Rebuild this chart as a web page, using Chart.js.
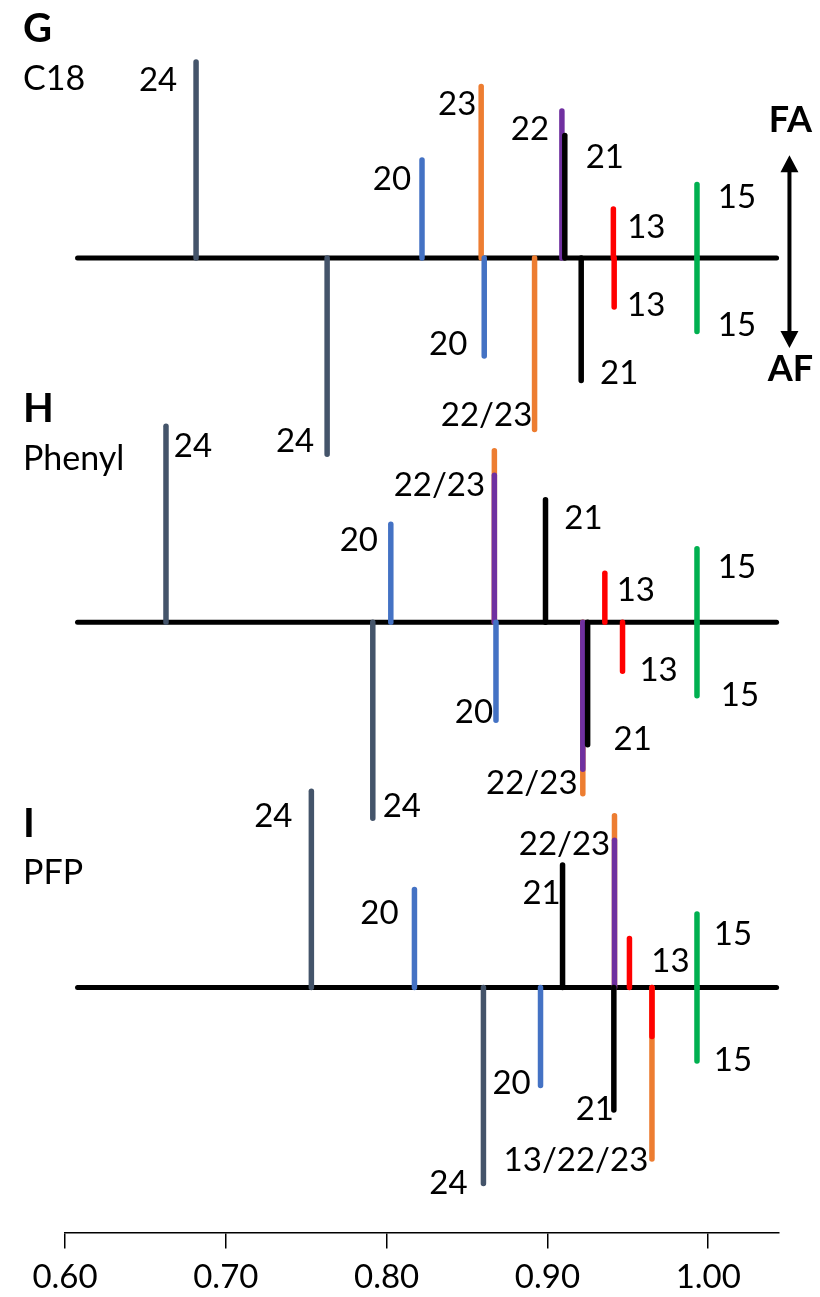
<!DOCTYPE html>
<html>
<head>
<meta charset="utf-8">
<script src="https://cdn.jsdelivr.net/npm/chart.js"></script>
<style>
  body { margin: 0; background: #fff; }
</style>
</head>
<body>
<canvas id="SelectivityChart" width="820" height="1297"></canvas>
<script>
var tickValues = [0.60, 0.70, 0.80, 0.90, 1.00];
var panelLetters = ['G', 'H', 'I'];
var panelNames = ['C18', 'Phenyl', 'PFP'];

// colour per compound
var compoundColor = {
  '24': '#44546A', '23': '#ED7D31', '22': '#7030A0', '21': '#000000',
  '20': '#4472C4', '15': '#00B050', '13': '#FF0000'
};

// G - C18 (up = FA, down = AF)
var g_upX   = [0.6815, 0.822, 0.8588, 0.909, 0.9108, 0.941, 0.993];
var g_upH   = [8, 4, 7, 6, 5, 2, 3];
var g_upC   = ['24', '20', '23', '22', '21', '13', '15'];
var g_upLab = ['24', '20', '23', '22', '21', '13', '15'];
var g_dnX   = [0.763, 0.8607, 0.892, 0.921, 0.9415, 0.993];
var g_dnH   = [8, 4, 7, 5, 2, 3];
var g_dnC   = ['24', '20', '23', '21', '13', '15'];
var g_dnLab = ['24', '20', '22/23', '21', '13', '15'];

// H - Phenyl
var h_upX   = [0.6628, 0.8026, 0.867, 0.867, 0.8988, 0.9357, 0.993];
var h_upH   = [8, 4, 7, 6, 5, 2, 3];
var h_upC   = ['24', '20', '23', '22', '21', '13', '15'];
var h_upLab = ['24', '20', '', '22/23', '21', '13', '15'];
var h_dnX   = [0.7914, 0.868, 0.922, 0.922, 0.925, 0.9467, 0.993];
var h_dnH   = [8, 4, 7, 6, 5, 2, 3];
var h_dnC   = ['24', '20', '23', '22', '21', '13', '15'];
var h_dnLab = ['24', '20', '', '22/23', '21', '13', '15'];

// I - PFP
var i_upX   = [0.7532, 0.8173, 0.9094, 0.9417, 0.9417, 0.951, 0.993];
var i_upH   = [8, 4, 5, 7, 6, 2, 3];
var i_upC   = ['24', '20', '21', '23', '22', '13', '15'];
var i_upLab = ['24', '20', '21', '', '22/23', '13', '15'];
var i_dnX   = [0.8602, 0.8957, 0.9413, 0.965, 0.965, 0.993];
var i_dnH   = [8, 4, 5, 7, 2, 3];
var i_dnC   = ['24', '20', '21', '23', '13', '15'];
var i_dnLab = ['24', '20', '21', '13/22/23', '', '15'];

// label offsets from the bar tip, in pixels [dx, dy]
var g_upOff = [[-38,17],[-30,18],[-24,16],[-32,17],[40,20],[33,17],[40,11]];
var g_dnOff = [[-32,-14],[-36,-13],[-48,-16],[38,-9],[32,-3],[40,-8]];
var h_upOff = [[27,19],[-32,15],[0,0],[-55,9],[38,17],[31,16],[40,17]];
var h_dnOff = [[29,-13],[-22,-9],[0,0],[-51,13],[45,-7],[36,-2],[43,-2]];
var i_upOff = [[-38,24],[-35,23],[-21,27],[0,0],[-50,3],[41,22],[36,19]];
var i_dnOff = [[-35,-1],[-29,-3],[-19,-2],[-76,0],[0,0],[36,-2]];

// layout: panel baselines on the y scale, baseline extent on x
var panelBase = [0, -14.86, -29.76];
var lineStart = 0.6078, lineEnd = 1.0425;
var arrowX = 1.0505;

var panels = [
  { up: [g_upX, g_upH, g_upC, g_upLab, g_upOff], dn: [g_dnX, g_dnH, g_dnC, g_dnLab, g_dnOff] },
  { up: [h_upX, h_upH, h_upC, h_upLab, h_upOff], dn: [h_dnX, h_dnH, h_dnC, h_dnLab, h_dnOff] },
  { up: [i_upX, i_upH, i_upC, i_upLab, i_upOff], dn: [i_dnX, i_dnH, i_dnC, i_dnLab, i_dnOff] }
];

var datasets = [];
var marks = [];
function seg(x0, y0, x1, y1, color, width) {
  datasets.push({
    type: 'line',
    data: [{ x: x0, y: y0 }, { x: x1, y: y1 }],
    borderColor: color,
    borderWidth: width,
    borderCapStyle: 'round',
    pointRadius: 0,
    clip: false,
    order: -datasets.length
  });
}

panels.forEach(function(p, pi) {
  var base = panelBase[pi];
  seg(lineStart, base, lineEnd, base, '#000000', 5);
  [['up', 1], ['dn', -1]].forEach(function(side) {
    var d = p[side[0]], sign = side[1];
    for (var k = 0; k < d[0].length; k++) {
      var tip = base + sign * d[1][k];
      seg(d[0][k], base, d[0][k], tip, compoundColor[d[2][k]], 5.5);
      marks.push({ x: d[0][k], y: tip, label: d[3][k], off: d[4][k] });
    }
  });
});

var textPlugin = {
  id: 'textPlugin',
  afterDatasetsDraw: function(chart) {
    var ctx = chart.ctx, xs = chart.scales.x, ys = chart.scales.y;
    ctx.save();
    ctx.fillStyle = '#000';
    ctx.textAlign = 'center';
    ctx.textBaseline = 'alphabetic';
    ctx.font = '33px Lato';
    marks.forEach(function(m) {
      if (!m.label) return;
      var px = xs.getPixelForValue(m.x) + m.off[0];
      var py = ys.getPixelForValue(m.y) + m.off[1] + 12;
      ctx.fillText(m.label, px, py);
    });

    // panel letters and column names
    var letterBase = [42, 422, 837];
    var nameBase = [90, 470, 884];
    ctx.textAlign = 'left';
    for (var i = 0; i < 3; i++) {
      ctx.font = 'bold 40px Lato';
      ctx.fillText(panelLetters[i], 23, letterBase[i]);
      ctx.font = '34px Lato';
      ctx.fillText(panelNames[i], 23, nameBase[i]);
    }

    // FA / AF double arrow
    var ax = xs.getPixelForValue(arrowX);
    var top = ys.getPixelForValue(panelBase[0] + 4.2);
    var bot = ys.getPixelForValue(panelBase[0] - 3.67);
    ctx.strokeStyle = '#000';
    ctx.lineWidth = 4;
    ctx.beginPath();
    ctx.moveTo(ax, top + 10);
    ctx.lineTo(ax, bot - 10);
    ctx.stroke();
    ctx.beginPath();
    ctx.moveTo(ax, top); ctx.lineTo(ax - 9, top + 17); ctx.lineTo(ax + 9, top + 17); ctx.closePath();
    ctx.moveTo(ax, bot); ctx.lineTo(ax - 9, bot - 17); ctx.lineTo(ax + 9, bot - 17); ctx.closePath();
    ctx.fill();
    ctx.textAlign = 'center';
    ctx.font = 'bold 36px Lato';
    ctx.fillText('FA', ax + 1, top - 23);
    ctx.fillText('AF', ax + 1, bot + 33);
    ctx.restore();
  }
};

new Chart(document.getElementById('SelectivityChart'), {
  type: 'line',
  data: { datasets: datasets },
  options: {
    responsive: false,
    animation: false,
    devicePixelRatio: 1,
    layout: { padding: { left: 65, right: 41, top: 0, bottom: 0 } },
    plugins: { legend: { display: false }, tooltip: { enabled: false } },
    scales: {
      x: {
        type: 'linear',
        min: 0.60,
        max: 1.044,
        afterBuildTicks: function(scale) {
          scale.ticks = tickValues.map(function(v) { return { value: v }; });
        },
        afterFit: function(scale) { scale.height = 64.5; },
        ticks: {
          color: '#000',
          padding: 9,
          maxRotation: 0,
          font: { family: 'Lato', size: 33 },
          callback: function(v) { return Number(v).toFixed(2); }
        },
        grid: { drawOnChartArea: false, drawTicks: true, tickLength: 16, color: '#000', lineWidth: 1.5 },
        border: { display: true, color: '#000', width: 1.5 }
      },
      y: {
        type: 'linear',
        display: false,
        min: -39.76,
        max: 10.53
      }
    }
  },
  plugins: [textPlugin]
});
</script>
</body>
</html>
